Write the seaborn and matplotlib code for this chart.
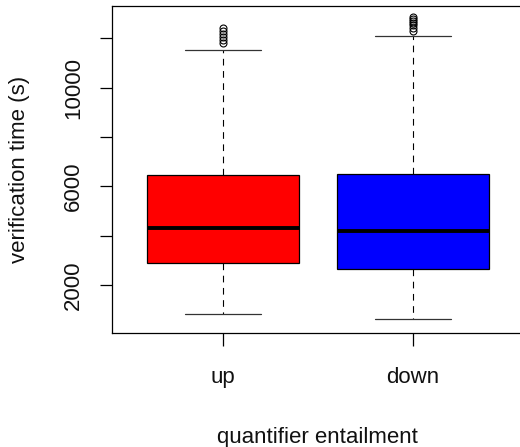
import matplotlib
matplotlib.use("Agg")
import matplotlib.pyplot as plt
import seaborn as sns

# Summary statistics of verification time per quantifier entailment direction
groups = ["up", "down"]
box_colors = ["#ff0000", "#0000ff"]
q1 = [2904, 2661]
medians = [4323, 4201]
q3 = [6459, 6500]
whisker_low = [837, 610]
whisker_high = [11526, 12105]
outliers_up = [11810, 11931, 12053, 12175, 12296, 12418]
outliers_down = [12276, 12418, 12539, 12620, 12702, 12783, 12864]
y_ticks = [2000, 4000, 6000, 8000, 10000, 12000]
y_tick_labels = ["2000", "", "6000", "", "10000", ""]

sns.set_style("white")
plt.rcParams["font.family"] = ["Liberation Sans", "DejaVu Sans"]
plt.rcParams["text.color"] = "#111111"
plt.rcParams["axes.labelcolor"] = "#111111"

fig = plt.figure(figsize=(5.2, 4.47), dpi=100)
ax = fig.add_axes([112 / 520, 1 - 332.5 / 447, (522.7 - 112) / 520, (332.5 - 6) / 447])

stats = []
for i, name in enumerate(groups):
    stats.append({
        "label": name,
        "q1": q1[i],
        "med": medians[i],
        "q3": q3[i],
        "whislo": whisker_low[i],
        "whishi": whisker_high[i],
        "fliers": [outliers_up, outliers_down][i],
    })

bp = ax.bxp(
    stats,
    positions=[1, 2],
    widths=0.8,
    patch_artist=True,
    showfliers=True,
    boxprops=dict(edgecolor="black", linewidth=0.9),
    medianprops=dict(color="black", linewidth=2.8, solid_capstyle="butt"),
    whiskerprops=dict(color="black", linewidth=0.8, linestyle=(0, (6, 5))),
    capprops=dict(color="#333333", linewidth=0.9),
    capwidths=0.4,
    flierprops=dict(marker="o", markerfacecolor="none", markeredgecolor="black",
                    markersize=5, markeredgewidth=0.8, linestyle="none"),
)
for patch, c in zip(bp["boxes"], box_colors):
    patch.set_facecolor(c)

ax.set_xlim(0.415, 2.58)
ax.set_ylim(75, 13309)
ax.set_xticks([1, 2])
ax.set_xticklabels(groups)
ax.set_yticks(y_ticks)
ax.set_yticklabels(y_tick_labels, rotation=90, va="center")

for side in ["left", "bottom", "top", "right"]:
    ax.spines[side].set_color("black")
    ax.spines[side].set_linewidth(0.9)

ax.tick_params(axis="both", which="both", direction="out", length=9, width=0.9,
               color="black", labelsize=16, labelcolor="#111111")
ax.tick_params(axis="y", pad=11, left=True)
ax.tick_params(axis="x", pad=16, bottom=True)

ax.set_ylabel("verification time (s)", fontsize=16, labelpad=24, color="#111111")
ax.set_xlabel("quantifier entailment", fontsize=16, labelpad=28, color="#111111")

fig.savefig("out.png", dpi=100)
